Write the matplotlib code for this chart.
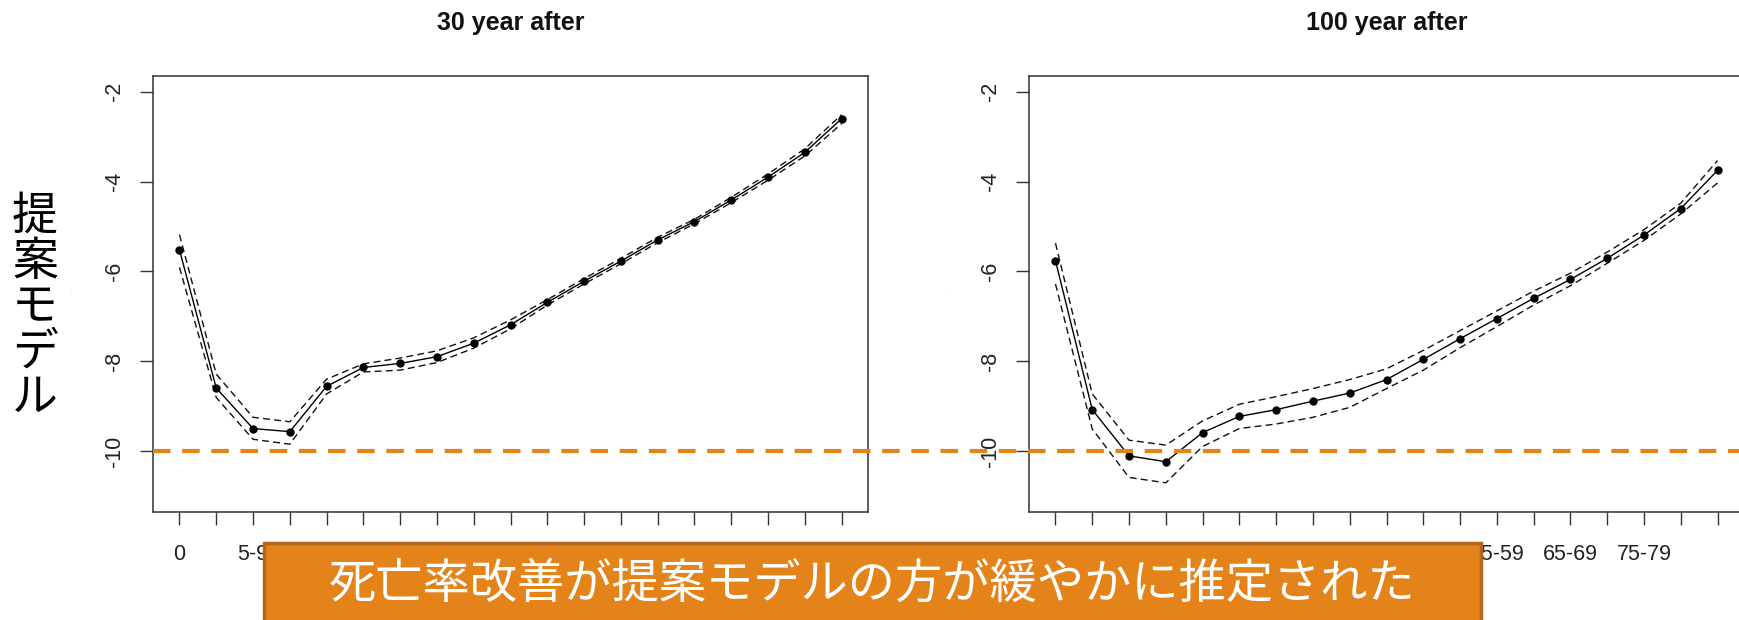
import matplotlib
matplotlib.use("Agg")
import matplotlib.pyplot as plt
import matplotlib.transforms as mtransforms
from matplotlib.patches import Rectangle
import numpy as np

# Age groups (x axis)
age_groups = ["0", "1-4", "5-9", "10-14", "15-19", "20-24", "25-29", "30-34",
              "35-39", "40-44", "45-49", "50-54", "55-59", "60-64", "65-69",
              "70-74", "75-79", "80-84", "85+"]
shown_labels = ["0", "5-9", "15-19", "25-29", "35-39", "45-49", "55-59",
                "65-69", "75-79"]

# Projected log mortality, 30 years ahead
est_30 = [-5.52, -8.60, -9.50, -9.57, -8.56, -8.14, -8.05, -7.90, -7.60,
          -7.19, -6.69, -6.22, -5.77, -5.30, -4.89, -4.41, -3.90, -3.35, -2.60]
upper_30 = [-5.18, -8.29, -9.25, -9.35, -8.40, -8.06, -7.93, -7.77, -7.48,
            -7.08, -6.63, -6.16, -5.71, -5.24, -4.84, -4.35, -3.83, -3.27, -2.51]
lower_30 = [-5.91, -8.81, -9.74, -9.85, -8.73, -8.24, -8.20, -8.03, -7.71,
            -7.28, -6.75, -6.28, -5.83, -5.36, -4.94, -4.47, -3.97, -3.43, -2.71]

# Projected log mortality, 100 years ahead
est_100 = [-5.76, -9.08, -10.11, -10.24, -9.59, -9.23, -9.08, -8.89, -8.71,
           -8.41, -7.96, -7.50, -7.05, -6.60, -6.18, -5.71, -5.19, -4.60, -3.75]
upper_100 = [-5.37, -8.73, -9.76, -9.87, -9.33, -8.96, -8.79, -8.61, -8.41,
             -8.17, -7.76, -7.32, -6.88, -6.44, -6.04, -5.57, -5.07, -4.48, -3.53]
lower_100 = [-6.28, -9.51, -10.59, -10.71, -9.90, -9.50, -9.40, -9.25, -9.03,
             -8.61, -8.20, -7.70, -7.23, -6.75, -6.32, -5.82, -5.31, -4.72, -4.03]

y_ticks = [-2, -4, -6, -8, -10]
ref_level = -10
panel_titles = ["30 year after", "100 year after"]
row_label = "提案モデル"
note = "死亡率改善が提案モデルの方が緩やかに推定された"

ORANGE = "#E4831A"
EDGE = "#B4661C"
W, H = 1739, 620

plt.rcParams["font.family"] = ["Liberation Sans", "DejaVu Sans"]
fig = plt.figure(figsize=(W / 100, H / 100), dpi=100)
fig.patch.set_facecolor("white")

ax_w = 715 / W
ax_h = (512 - 75.7) / H
ax_b = 1 - 512 / H
ax1 = fig.add_axes([153 / W, ax_b, ax_w, ax_h])
ax2 = fig.add_axes([1029 / W, ax_b, ax_w, ax_h])

x = np.arange(len(age_groups))
label_pos = [age_groups.index(a) for a in shown_labels]

for ax, est, up, lo in [(ax1, est_30, upper_30, lower_30),
                        (ax2, est_100, upper_100, lower_100)]:
    ax.plot(x, est, color="black", lw=1.0, marker="o", ms=5, zorder=3)
    ax.plot(x, up, color="#111111", lw=1.0, ls=(0, (5, 3)), zorder=2)
    ax.plot(x, lo, color="#111111", lw=1.0, ls=(0, (5, 3)), zorder=2)
    span = 18
    ax.set_xlim(-0.04 * span, span * 1.04)
    ax.set_ylim(-11 - 0.36, -2 + 0.36)
    ax.set_yticks(y_ticks)
    ax.set_yticklabels([str(t) for t in y_ticks], rotation=90, va="center")
    ax.set_xticks(x)
    ax.set_xticklabels([a if i in label_pos else "" for i, a in enumerate(age_groups)])
    ax.tick_params(axis="both", direction="out", length=9.4, width=1.0,
                   color="#333333", labelsize=15.5, labelcolor="#222222")
    ax.tick_params(axis="x", pad=14)
    ax.tick_params(axis="y", pad=11)
    for s in ax.spines.values():
        s.set_color("#333333")
        s.set_linewidth(1.1)

# Titles
for ax, t in [(ax1, panel_titles[0]), (ax2, panel_titles[1])]:
    pos = ax.get_position()
    xc = (pos.x0 + pos.x1) / 2
    fig.text(xc, 1 - 23 / H, t, ha="center", va="center", fontsize=18,
             fontweight="bold", color="#111111")

# Reference level drawn across both panels
tr = mtransforms.blended_transform_factory(fig.transFigure, ax1.transData)
ref = plt.Line2D([153 / W, 1.0], [ref_level, ref_level], transform=tr,
                 color=ORANGE, lw=3.0, ls=(0, (4.2, 2.8)), clip_on=False, zorder=5)
fig.add_artist(ref)

# Vertical row label
for i, ch in enumerate(row_label):
    fig.text(35 / W, 1 - (216 + i * 45.5) / H, ch, ha="center", va="center",
             fontsize=33, family=["Noto Sans CJK JP"], color="black")

# Tiny stray marks beside the panels
for xp in [71, 946]:
    fig.text(xp / W, 1 - 292 / H, ".", ha="center", va="bottom", fontsize=4,
             color="#888888")

# Highlighted annotation box
box = Rectangle((264 / W, 0 - 5 / H), (1481 - 264) / W, (620 - 543 + 5) / H,
                transform=fig.transFigure, facecolor=ORANGE, edgecolor=EDGE,
                lw=2.5, zorder=10)
fig.add_artist(box)
fig.text((264 + 1481) / 2 / W, 1 - 584 / H, note, ha="center", va="center",
         fontsize=34, family=["Noto Sans CJK JP"], color="white", zorder=11)

fig.savefig("out.png", dpi=100, facecolor="white")
